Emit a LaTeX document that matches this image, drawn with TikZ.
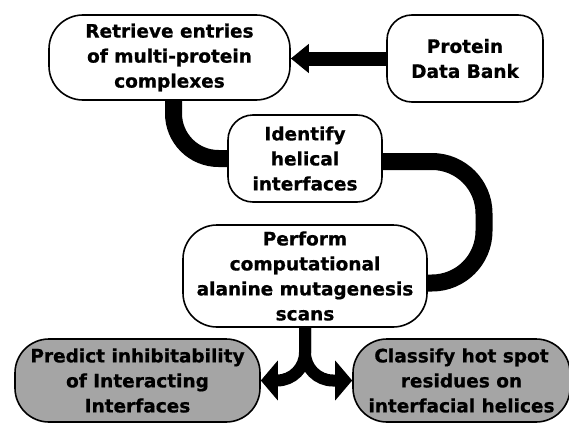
\documentclass[tikz,border=0pt]{standalone}
\usepackage{fontspec}
\setmainfont{DejaVu Sans}[BoldFeatures={FakeBold=0.8}]
\usetikzlibrary{arrows.meta}
\definecolor{boxgray}{RGB}{165,165,165}

\begin{document}
\begin{tikzpicture}[x=1pt, y=1pt, line join=round,
	font=\fontsize{18.5}{25}\selectfont\bfseries,
	box/.style={draw, line width=1.6pt, rounded corners=34pt, align=center, inner sep=0pt},
	outbox/.style={box, fill=boxgray},
	pipe/.style={line width=17pt},
	feed/.style={line width=14pt, -{Triangle[length=18pt, width=28pt]}},
	fork/.style={line width=12pt, rounded corners=28pt, -{Triangle[length=17pt, width=39pt]}}]
	\useasboundingbox (0,0) rectangle (569,-423);
	%%%%%%%%%%%%%%%%%%%%%%%%%%%%%%%%%
	\node[box, minimum width=241pt, minimum height=85pt] (ret) at (169.5,-57.5) {Retrieve entries\\of multi-protein\\complexes};
	\node[box, rounded corners=25pt, minimum width=156pt, minimum height=87pt] (pdb) at (465,-58.5) {Protein\\Data Bank};
	\node[box, rounded corners=25pt, minimum width=154pt, minimum height=87pt] (idf) at (305,-158.5) {Identify\\helical\\interfaces};
	\node[box, minimum width=244pt, minimum height=102pt] (perf) at (305,-276) {Perform\\computational\\alanine mutagenesis\\scans};
	\node[outbox, minimum width=245pt, minimum height=83pt] (pred) at (137.5,-380.5) {Predict inhibitability\\of Interacting\\Interfaces};
	\node[outbox, minimum width=217pt, minimum height=83pt] (cls) at (461.5,-380.5) {Classify hot spot\\residues on\\interfacial helices};
	%%%%%%%%%%%%%%%%%%%%%%%%%%%%%%%%%
	\coordinate (top) at (484,-161.5);
	\coordinate (low) at (484,-283);
	%%%%%%%%%%%%%%%%%%%%%%%%%%%%%%%%%
	\draw[feed] (pdb.west) -- (ret.east |- pdb.west);
	\draw[pipe, rounded corners=45pt] ([xshift=4pt]ret.south) |- (idf.west);
	\draw[pipe, rounded corners=52pt] ([yshift=-3pt]idf.east) -- (top) -- (low) -- ([yshift=-7pt]perf.east);
	\draw[fork] (perf.south) |- (pred.east);
	\draw[fork] (perf.south) |- (cls.west);
	%%%%%%%%%%%%%%%%%%%%%%%%%%%%%%%%%
\end{tikzpicture}
\end{document}
